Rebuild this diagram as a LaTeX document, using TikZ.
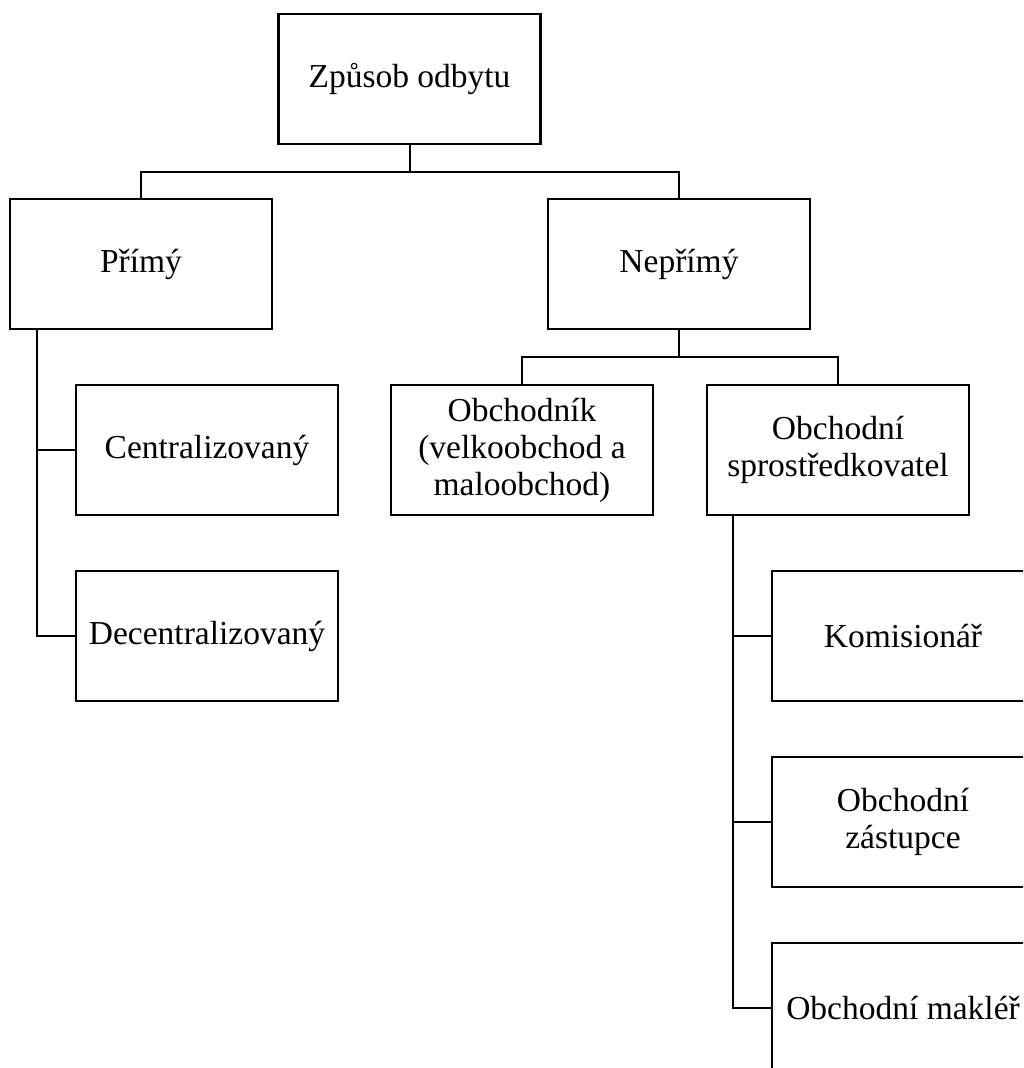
\documentclass[tikz,border=0pt]{standalone}
\usepackage{fontspec}
\setmainfont{Liberation Serif}
\begin{document}
\begin{tikzpicture}[x=1pt,y=-1pt,
  box/.style={draw,line width=2.3pt,minimum width=262pt,minimum height=130pt,inner sep=0pt,align=center,font=\fontsize{33.5}{37}\selectfont},
  conn/.style={line width=2pt}]
\useasboundingbox (0,0) rectangle (1023,1068);
\clip (0,0) rectangle (1023,1068);
\fill[white] (0,0) rectangle (1023,1068);
\node[box] (top) at (409.5,79) {Způsob odbytu};
\node[box] (primy) at (141,264) {Přímý};
\node[box] (neprimy) at (679,264) {Nepřímý};
\node[box] (centr) at (207,450) {Centralizovaný};
\node[box] (decentr) at (207,636) {Decentralizovaný};
\node[box] (obchodnik) at (522,450) {Obchodník\\(velkoobchod a\\maloobchod)};
\node[box] (sprost) at (838,450) {Obchodní\\sprostředkovatel};
\node[box] (komis) at (903,636) {Komisionář};
\node[box] (zast) at (903,822) {Obchodní\\zástupce};
\node[box] (makler) at (903,1008) {Obchodní makléř};
\coordinate (b1) at (409.5,172);
\coordinate (b2) at (679,357);
\coordinate (lj) at (37,330);
\coordinate (rj) at (733,516);
\draw[conn] (top.south) -- (b1);
\draw[conn] (b1) -| (primy.north);
\draw[conn] (b1) -| (neprimy.north);
\draw[conn] (neprimy.south) -- (b2);
\draw[conn] (b2) -| (obchodnik.north);
\draw[conn] (b2) -| (sprost.north);
\draw[conn] (lj) |- (decentr.west);
\draw[conn] (centr.west) -- (centr.west -| lj);
\draw[conn] (rj) |- (makler.west);
\draw[conn] (komis.west) -- (komis.west -| rj);
\draw[conn] (zast.west) -- (zast.west -| rj);
\end{tikzpicture}
\end{document}
